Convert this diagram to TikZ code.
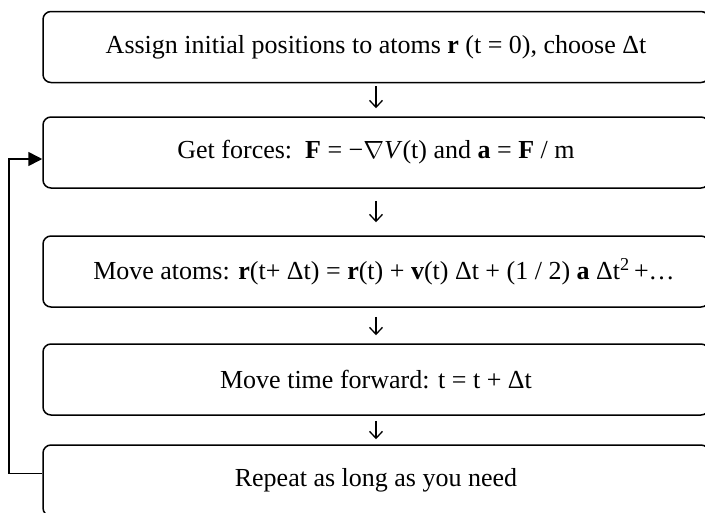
\documentclass[tikz,border=0pt]{standalone}
\usepackage{fontspec}
\setmainfont{Liberation Serif}
\usetikzlibrary{arrows.meta}

\begin{document}
\begin{tikzpicture}[x=1pt, y=-1pt,
    stepbox/.style={draw=borderColour, line width=1.5pt, rounded corners=8pt,
        minimum width=666pt, minimum height=71pt, inner sep=0pt,
        font=\fontsize{26}{31}\selectfont},
    flow/.style={draw=borderColour, line width=1.3pt, -{Straight Barb[length=7pt,width=13pt]}},
    back/.style={draw=borderColour, line width=1.6pt, -{Triangle[length=14pt,width=14pt]}}]
    \definecolor{borderColour}{HTML}{000000}

    % Fix the page and cut the boxes at its edges
    \useasboundingbox (0,0) rectangle (705,512);
    \clip (0,0) rectangle (705,512);

    % Draw the steps
    \node[stepbox] (init) at (376,47) {Assign initial positions to atoms \textbf{r} (t = 0), choose Δt};
    \node[stepbox] (forces) at (376,152.5) {Get forces:\ \ \textbf{F} = −$\nabla$\textit{V}(t) and \textbf{a} = \textbf{F} / m};
    \node[stepbox] (move) at (376,271.5) {\hspace*{16pt}Move atoms: \textbf{r}(t+ Δt) = \textbf{r}(t) + \textbf{v}(t) Δt + (1 / 2) \textbf{a} Δt\textsuperscript{2}\,+…};
    \node[stepbox] (time) at (376,379.5) {Move time forward: t = t + Δt};
    \node[stepbox] (repeat) at (376,480.5) {Repeat as long as you need};

    % Draw the arrows between the steps
    \draw[flow, shorten <=3pt, shorten >=8pt] (init) -- (forces);
    \draw[flow, shorten <=12pt, shorten >=13pt] (forces) -- (move);
    \draw[flow, shorten <=9pt, shorten >=8pt] (move) -- (time);
    \draw[flow, shorten <=5pt, shorten >=5pt] (time) -- (repeat);

    % Draw the loop back
    \draw[back] ([yshift=7pt]repeat.west) -- ++(-33,0) |- ([yshift=-6.5pt]forces.west);

\end{tikzpicture}
\end{document}
